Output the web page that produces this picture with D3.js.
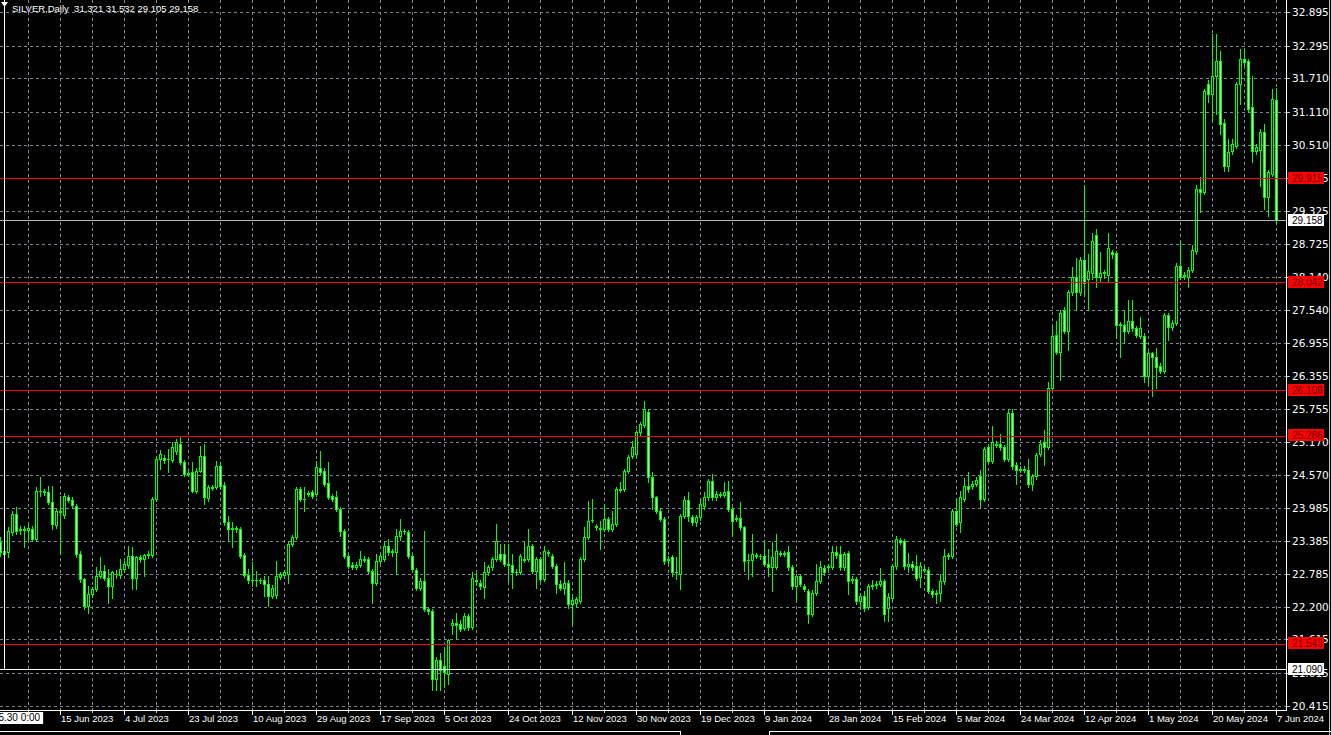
<!DOCTYPE html>
<html>
<head>
<meta charset="utf-8">
<script src="https://cdn.jsdelivr.net/npm/d3@7"></script>
<style>
html,body{margin:0;padding:0;background:#000;overflow:hidden}
svg{display:block}
</style>
</head>
<body>
<svg id="chart" width="1331" height="735"></svg>
<script>
// ---------- DATA (SILVER, Daily) ----------
const title = "SILVER,Daily  31.321 31.532 29.105 29.158";

const opens = [
23.36,23.16,23.19,23.55,23.87,23.58,23.60,23.59,23.61,23.42,24.28,24.29,24.26,24.08,23.68,23.93,23.85,24.18,24.13,24.02,
23.15,22.70,22.22,22.43,22.52,22.76,22.85,22.73,22.58,22.80,22.77,22.88,22.95,23.12,22.73,23.09,23.07,23.14,23.13,24.14,
24.87,24.88,24.86,24.84,25.00,25.13,24.80,24.60,24.62,24.29,24.65,24.92,24.16,24.34,24.35,24.74,24.40,23.72,23.60,23.62,
23.61,23.13,22.78,22.68,22.69,22.68,22.69,22.61,22.40,22.42,22.74,22.77,22.80,23.33,23.45,24.32,24.14,24.23,24.26,24.23,
24.70,24.64,24.43,24.19,24.17,23.96,23.57,23.12,22.96,22.92,22.95,23.05,23.06,22.85,22.64,23.03,23.07,23.30,23.18,23.19,
23.47,23.57,23.55,23.12,22.87,22.55,22.67,22.16,22.13,20.91,21.24,21.14,21.00,21.87,21.92,21.90,21.83,22.04,21.84,22.68,
22.64,22.56,22.82,22.91,23.06,23.15,23.15,22.97,22.96,22.82,22.83,23.06,23.06,23.29,22.85,23.06,22.70,23.18,23.12,22.94,
22.62,22.55,22.64,22.25,22.27,22.31,23.06,23.45,23.76,23.66,23.62,23.61,23.78,23.60,23.69,24.31,24.32,24.65,24.92,24.95,
25.34,25.47,25.70,24.53,24.17,23.93,23.78,23.04,23.09,22.82,22.79,23.84,24.13,23.82,23.72,23.81,24.02,24.17,24.46,24.17,
24.23,24.21,24.29,23.96,23.78,23.80,23.63,23.04,23.04,23.13,23.12,23.12,22.97,22.92,22.92,23.17,23.16,23.18,22.91,22.58,
22.76,22.58,22.49,22.07,22.46,22.67,22.90,22.91,22.92,23.18,23.15,22.91,23.17,22.68,22.70,22.31,22.40,22.20,22.57,22.59,
22.62,22.66,22.18,22.37,22.93,23.40,23.38,22.93,22.97,22.93,22.74,22.89,22.87,22.49,22.44,22.45,22.66,23.11,23.12,23.93,
23.72,24.15,24.38,24.38,24.42,24.55,24.14,25.07,24.83,25.14,25.14,25.07,24.86,25.69,24.76,24.67,24.68,24.66,24.42,24.55,
24.96,25.17,25.08,26.14,27.10,26.79,27.55,27.17,27.86,28.14,27.86,28.45,28.10,28.20,28.89,28.14,28.20,28.17,28.58,28.56,
27.29,27.28,27.17,27.34,27.21,27.08,27.07,26.35,26.76,26.69,26.54,26.45,27.45,27.24,27.31,28.34,28.15,28.14,28.27,28.60,
29.72,29.67,31.61,31.42,31.75,32.02,30.90,30.13,30.40,30.50,31.61,32.05,32.02,31.19,30.40,30.42,30.74,29.57,29.99,31.321
];
const highs = [
23.45,23.27,23.63,23.92,23.99,23.66,23.66,23.69,23.66,24.35,24.53,24.33,24.38,24.38,23.98,24.20,24.25,24.22,24.18,24.05,
23.20,22.73,22.58,22.56,22.91,23.09,22.95,22.88,22.85,22.86,23.06,23.03,23.30,23.27,23.12,23.13,23.16,23.20,24.17,24.90,
25.03,24.93,25.04,25.16,25.22,25.28,24.84,24.66,24.80,24.70,25.10,25.13,24.40,24.40,24.83,24.80,24.45,23.84,23.72,23.66,
23.64,23.17,22.88,23.00,22.85,22.73,22.76,22.76,22.60,23.03,22.83,22.86,23.36,23.50,24.35,24.36,24.35,24.29,24.30,24.83,
25.01,24.70,24.80,24.24,24.29,23.99,23.60,23.16,23.00,23.00,23.21,23.12,23.10,22.88,23.15,23.16,23.39,23.42,23.25,23.60,
23.78,23.61,23.58,23.15,22.90,22.72,23.57,22.19,22.16,21.30,21.38,21.48,21.63,21.98,22.10,21.96,22.10,22.08,22.82,22.82,
22.69,23.00,22.96,23.09,23.69,23.33,23.33,23.33,23.15,22.88,23.16,23.39,23.60,23.33,23.10,23.10,23.30,23.22,23.16,22.97,
22.68,23.00,22.68,22.43,22.38,23.10,23.63,24.11,24.14,23.70,23.75,24.05,23.82,23.93,24.36,24.44,24.69,24.93,25.19,25.38,
25.52,25.91,25.76,24.62,24.20,23.97,23.82,23.12,23.13,23.09,23.88,24.20,24.26,23.86,23.86,24.14,24.26,24.50,24.59,24.28,
24.27,24.44,24.47,24.00,23.85,24.08,23.66,23.15,23.51,23.17,23.16,23.39,23.24,23.36,23.51,23.21,23.21,23.30,22.95,22.80,
22.80,22.62,22.52,22.50,22.97,23.03,22.95,22.97,23.30,23.30,23.30,23.19,23.21,22.75,22.74,22.45,22.49,22.62,22.69,22.66,
22.90,22.70,22.45,22.97,23.48,23.44,23.42,23.17,23.02,23.14,23.00,22.93,22.91,22.53,22.50,22.80,23.24,23.17,23.97,24.14,
24.28,24.52,24.62,24.46,24.53,24.66,25.08,25.11,25.45,25.18,25.31,25.11,25.76,25.76,24.80,24.73,24.73,24.86,24.60,24.97,
25.21,25.38,26.24,27.28,27.34,27.55,27.59,27.90,28.31,28.48,28.50,29.79,28.55,28.93,29.00,28.58,28.27,28.93,28.62,28.60,
27.33,27.55,27.72,27.72,27.25,27.41,27.12,26.80,26.79,26.86,26.59,27.49,27.49,27.36,28.38,28.79,28.22,28.31,28.72,29.79,
29.93,31.52,31.68,32.50,32.50,32.20,30.98,30.62,30.62,31.65,32.23,32.23,32.06,31.75,30.52,30.80,30.89,30.06,31.52,31.532
];
const lows = [
23.12,23.09,23.09,23.50,23.52,23.52,23.27,23.39,23.38,23.40,24.20,24.22,24.05,23.60,23.62,23.15,23.80,24.08,23.98,23.10,
22.65,22.16,22.10,22.38,22.48,22.72,22.68,22.28,22.37,22.72,22.72,22.83,22.90,22.52,22.52,23.00,22.76,23.08,23.10,24.10,
24.68,24.79,24.62,24.80,24.96,24.77,24.55,24.55,24.26,24.25,24.62,24.05,24.10,24.30,24.32,24.33,23.68,23.39,23.27,23.55,
23.08,22.74,22.64,22.58,22.58,22.63,22.40,22.22,22.36,22.37,22.70,22.72,22.64,23.30,23.42,24.10,23.93,24.19,24.16,24.19,
24.60,24.38,24.14,24.10,23.93,23.48,23.08,22.90,22.88,22.88,22.91,23.00,22.81,22.28,22.60,22.99,23.02,23.14,23.12,22.79,
23.40,23.51,23.08,22.84,22.51,22.50,22.13,22.08,20.70,20.70,20.70,20.76,20.82,21.72,21.63,21.76,21.79,21.78,21.80,22.60,
22.52,22.37,22.78,22.87,23.02,23.02,22.93,22.67,22.55,22.77,22.79,23.01,23.02,22.81,22.55,22.66,22.66,23.12,22.90,22.46,
22.50,22.43,22.19,21.89,22.20,22.28,23.02,23.42,23.72,23.58,23.24,23.57,23.56,23.56,23.65,24.27,24.28,24.61,24.88,24.90,
25.30,25.43,24.44,23.96,23.89,23.74,22.97,22.99,22.76,22.70,22.52,23.80,23.75,23.68,23.66,23.77,23.96,24.13,24.13,24.13,
24.18,24.17,23.92,23.48,23.74,23.59,22.85,22.70,22.76,23.08,23.07,22.93,22.76,22.49,22.88,23.12,23.12,22.87,22.52,22.31,
22.57,22.48,21.92,22.04,22.42,22.63,22.78,22.87,22.88,23.08,22.87,22.87,22.43,22.64,22.25,22.16,22.13,22.16,22.53,22.55,
22.58,21.94,21.94,22.33,22.89,23.33,22.89,22.83,22.86,22.69,22.56,22.82,22.45,22.38,22.28,22.31,22.62,23.07,23.08,23.65,
23.55,24.10,24.27,24.33,24.38,24.00,24.11,24.79,24.79,25.08,25.03,24.82,24.82,24.69,24.42,24.62,24.62,24.35,24.31,24.51,
24.92,24.76,25.04,26.10,26.75,26.28,27.13,26.83,27.82,27.55,27.82,27.79,27.55,28.10,27.96,28.07,28.12,28.06,28.48,27.03,
26.69,26.97,27.13,27.17,27.06,27.03,26.24,26.21,26.00,26.14,26.40,26.41,27.00,27.19,27.27,28.10,28.10,27.96,28.23,28.55,
29.31,29.62,31.28,30.94,31.07,30.71,30.04,30.04,30.35,30.45,31.25,31.95,31.10,30.20,30.35,29.77,29.36,29.23,29.95,29.105
];
const closes = [
23.19,23.21,23.57,23.87,23.57,23.60,23.59,23.62,23.42,24.29,24.29,24.27,24.08,23.69,23.93,23.91,24.20,24.12,24.03,23.15,
22.70,22.22,22.43,22.52,22.76,22.85,22.73,22.58,22.82,22.79,22.88,22.97,23.12,22.73,23.09,23.07,23.14,23.16,24.14,24.87,
24.95,24.84,24.87,25.07,25.16,24.80,24.59,24.61,24.29,24.65,24.92,24.17,24.35,24.36,24.74,24.38,23.72,23.60,23.62,23.61,
23.12,22.78,22.68,22.69,22.68,22.69,22.61,22.40,22.55,22.76,22.79,22.82,23.33,23.45,24.32,24.14,24.15,24.25,24.20,24.71,
24.63,24.41,24.17,24.15,23.96,23.57,23.12,22.94,22.92,22.96,23.06,23.07,22.85,22.64,23.03,23.12,23.30,23.18,23.20,23.48,
23.57,23.56,23.12,22.88,22.55,22.67,22.17,22.13,20.91,21.24,21.06,21.03,21.60,21.91,21.88,21.81,22.04,21.84,22.73,22.66,
22.58,22.82,22.91,23.06,23.39,23.07,22.97,22.96,22.82,22.83,23.12,23.05,23.29,22.85,23.06,22.70,23.21,23.17,22.94,22.61,
22.55,22.64,22.25,22.33,22.34,23.06,23.45,23.75,23.77,23.63,23.61,23.78,23.60,23.69,24.32,24.33,24.65,24.89,25.08,25.34,
25.49,25.76,24.53,24.17,23.93,23.78,23.03,23.06,22.82,22.83,23.84,24.13,23.84,23.72,23.82,24.05,24.17,24.46,24.17,24.23,
24.22,24.26,23.96,23.75,23.80,23.63,23.03,23.05,23.15,23.12,23.11,22.97,22.92,23.09,23.21,23.16,23.17,22.91,22.58,22.76,
22.61,22.52,22.07,22.46,22.67,22.91,22.82,22.93,23.18,23.13,22.91,23.15,22.67,22.70,22.31,22.40,22.19,22.58,22.59,22.61,
22.66,22.07,22.38,22.93,23.42,23.37,22.93,22.98,22.91,22.73,22.93,22.87,22.49,22.43,22.46,22.66,23.11,23.13,23.93,23.69,
24.17,24.38,24.32,24.42,24.48,24.14,25.04,24.83,25.17,25.12,25.07,24.86,25.69,24.73,24.66,24.68,24.67,24.42,24.55,24.93,
25.14,25.08,26.14,27.07,26.79,27.48,27.17,27.86,28.14,27.86,28.45,28.03,28.24,28.79,28.14,28.21,28.22,28.65,28.55,27.28,
27.27,27.17,27.34,27.21,27.10,27.21,26.35,26.76,26.69,26.52,26.45,27.45,27.24,27.31,28.34,28.14,28.17,28.27,28.62,29.72,
29.67,31.48,31.42,31.75,32.02,30.89,30.13,30.38,30.53,31.61,32.05,32.00,31.16,30.40,30.47,30.74,29.57,30.02,31.34,29.158
];

const dateLabels = ["15 Jun 2023","4 Jul 2023","23 Jul 2023","10 Aug 2023","29 Aug 2023","17 Sep 2023",
  "5 Oct 2023","24 Oct 2023","12 Nov 2023","30 Nov 2023","19 Dec 2023","9 Jan 2024","28 Jan 2024",
  "15 Feb 2024","5 Mar 2024","24 Mar 2024","12 Apr 2024","1 May 2024","20 May 2024","7 Jun 2024"];

const priceTicks = [32.895,32.295,31.710,31.110,30.510,29.915,29.325,28.725,28.140,27.540,26.955,
  26.355,25.755,25.170,24.570,23.985,23.385,22.785,22.200,21.615,21.015,20.415];

const levelLines = [29.915, 28.042, 26.108, 25.286, 21.543];
const bidPrice = 29.158;
const crossPrice = 21.090;
const crossTime = "2023.05.30 0:00";

// ---------- LAYOUT ----------
const W = 1331, H = 735;
const plotRight = 1286, plotBottom = 710;
const n = opens.length;
const firstLabelBar = 15, labelStep = 16, gridStep = 8, firstGridBar = 7;

const x = d3.scaleLinear().domain([0, n - 1]).range([0, 1276]);
const y = d3.scaleLinear().domain([20.415, 32.895]).range([706.2, 12.4]);
const px = v => Math.round(x(v)) + 0.5;
const py = v => Math.round(y(v)) + 0.5;
const evenRow = v => 2 * Math.round(y(v) / 2);

const svg = d3.select("#chart");
svg.append("rect").attr("width", W).attr("height", H).attr("fill", "#000");

const gridColor = "#7d8794";
const grid = svg.append("g").attr("shape-rendering", "crispEdges");

grid.selectAll("line.hg").data(priceTicks).join("line").attr("class", "hg")
  .attr("x1", 0).attr("x2", plotRight)
  .attr("y1", d => py(d)).attr("y2", d => py(d))
  .attr("stroke", gridColor).attr("stroke-dasharray", "3,3");

const gridBars = d3.range(firstGridBar, n, gridStep);
grid.selectAll("line.vg").data(gridBars).join("line").attr("class", "vg")
  .attr("x1", d => px(d)).attr("x2", d => px(d))
  .attr("y1", 0).attr("y2", plotBottom)
  .attr("stroke", gridColor).attr("stroke-dasharray", "3,3");

// ---------- CANDLES ----------
const bars = d3.range(n).map(i => ({i, o: opens[i], h: highs[i], l: lows[i], c: closes[i]}));
const cg = svg.append("g").attr("shape-rendering", "crispEdges");
const lime = "#00ff00";

cg.selectAll("line.wick").data(bars).join("line").attr("class", "wick")
  .attr("x1", d => px(d.i)).attr("x2", d => px(d.i))
  .attr("y1", d => Math.round(y(d.h))).attr("y2", d => Math.round(y(d.l)) + 1)
  .attr("stroke", lime);

bars.forEach(d => {
  const cx = Math.round(x(d.i));
  const top = Math.round(y(Math.max(d.o, d.c)));
  const bot = Math.round(y(Math.min(d.o, d.c)));
  const h = Math.max(1, bot - top + 1);
  cg.append("rect").attr("x", cx - 1).attr("y", top).attr("width", 3).attr("height", h).attr("fill", lime);
  if (h > 2) {
    cg.append("rect").attr("x", cx).attr("y", top + 1).attr("width", 1).attr("height", h - 2)
      .attr("fill", d.c < d.o ? "#b8ffb8" : "#000000");
  }
});

// ---------- OBJECTS ----------
const lv = svg.append("g");
lv.selectAll("rect.lvl").data(levelLines).join("rect").attr("class", "lvl")
  .attr("x", 0).attr("width", plotRight)
  .attr("y", d => evenRow(d)).attr("height", 1)
  .attr("fill", "#ff0000");

lv.append("rect").attr("x", 0).attr("width", plotRight)
  .attr("y", Math.round(y(bidPrice))).attr("height", 1).attr("fill", "#b4b4b4");

// crosshair
lv.append("rect").attr("x", 4).attr("width", 1).attr("y", 0).attr("height", Math.round(y(crossPrice))).attr("fill", "#fff");
lv.append("rect").attr("x", 0).attr("width", plotRight).attr("y", Math.round(y(crossPrice))).attr("height", 1).attr("fill", "#fff");
lv.append("path").attr("d", "M1,2 L8,2 L4.5,7 Z").attr("fill", "#fff");

// ---------- AXES ----------
const ax = svg.append("g").attr("shape-rendering", "crispEdges");
ax.append("line").attr("x1", plotRight + 0.5).attr("x2", plotRight + 0.5).attr("y1", 0).attr("y2", plotBottom + 1).attr("stroke", "#fff");
ax.append("line").attr("x1", 0).attr("x2", plotRight + 1).attr("y1", plotBottom + 0.5).attr("y2", plotBottom + 0.5).attr("stroke", "#fff");
ax.append("line").attr("x1", W - 1.5).attr("x2", W - 1.5).attr("y1", 0).attr("y2", H).attr("stroke", "#bdbdbd");

ax.selectAll("line.pt").data(priceTicks).join("line").attr("class", "pt")
  .attr("x1", plotRight + 1).attr("x2", plotRight + 4)
  .attr("y1", d => py(d)).attr("y2", d => py(d)).attr("stroke", "#c8c8c8");
svg.append("g").selectAll("text").data(priceTicks).join("text")
  .attr("x", 1292).attr("y", d => Math.round(y(d)) + 4)
  .attr("fill", "#fff").attr("font-family", "'DejaVu Sans', sans-serif").attr("font-size", "10.5px")
  .text(d => d.toFixed(3));

const labelBars = dateLabels.map((s, k) => ({s, b: firstLabelBar + k * labelStep}));
ax.selectAll("line.tt").data(gridBars).join("line").attr("class", "tt")
  .attr("x1", d => px(d)).attr("x2", d => px(d))
  .attr("y1", plotBottom + 1).attr("y2", plotBottom + 3).attr("stroke", "#c8c8c8");
ax.selectAll("line.tl").data(labelBars).join("line").attr("class", "tl")
  .attr("x1", d => px(d.b)).attr("x2", d => px(d.b))
  .attr("y1", plotBottom + 1).attr("y2", plotBottom + 5).attr("stroke", "#fff");
svg.append("g").selectAll("text").data(labelBars).join("text")
  .attr("x", d => Math.round(x(d.b)) + 1).attr("y", 722)
  .attr("fill", "#fff").attr("font-family", "'Liberation Sans', sans-serif").attr("font-size", "9.5px")
  .text(d => d.s);

function priceBox(v, bg, fg, txt) {
  const g = svg.append("g");
  const cy = Math.round(y(v));
  g.append("rect").attr("x", 1288).attr("y", cy - 6).attr("width", 36).attr("height", 12).attr("fill", bg);
  g.append("text").attr("x", 1292).attr("y", cy + 4).attr("fill", fg)
    .attr("font-family", "'Liberation Sans', sans-serif").attr("font-size", "10px").text(txt);
}
levelLines.forEach(v => priceBox(v, "#ff0000", "#6a0000", v.toFixed(3)));
priceBox(bidPrice, "#ffffff", "#000000", bidPrice.toFixed(3));
priceBox(crossPrice, "#ffffff", "#000000", crossPrice.toFixed(3));

const tb = svg.append("g");
const tt = tb.append("text").attr("x", 4).attr("y", 721).attr("text-anchor", "middle")
  .attr("font-family", "'Liberation Sans', sans-serif").attr("font-size", "10px").attr("fill", "#000").text(crossTime);
const bw = tt.node().getComputedTextLength() + 6;
tb.insert("rect", "text").attr("x", 4 - bw / 2).attr("y", 712).attr("width", bw).attr("height", 12).attr("fill", "#fff");

svg.append("text").attr("x", 12).attr("y", 12).attr("fill", "#fff")
  .attr("font-family", "'Liberation Sans', sans-serif").attr("font-size", "9.5px")
  .style("white-space", "pre").text(title);

const fr = svg.append("g").attr("shape-rendering", "crispEdges").attr("stroke", "#fff");
fr.append("line").attr("x1", 0).attr("x2", 681).attr("y1", 731.5).attr("y2", 731.5);
fr.append("line").attr("x1", 680.5).attr("x2", 680.5).attr("y1", 731).attr("y2", 735);
fr.append("line").attr("x1", 769).attr("x2", W).attr("y1", 731.5).attr("y2", 731.5);
fr.append("line").attr("x1", 769.5).attr("x2", 769.5).attr("y1", 731).attr("y2", 735);
</script>
</body>
</html>
